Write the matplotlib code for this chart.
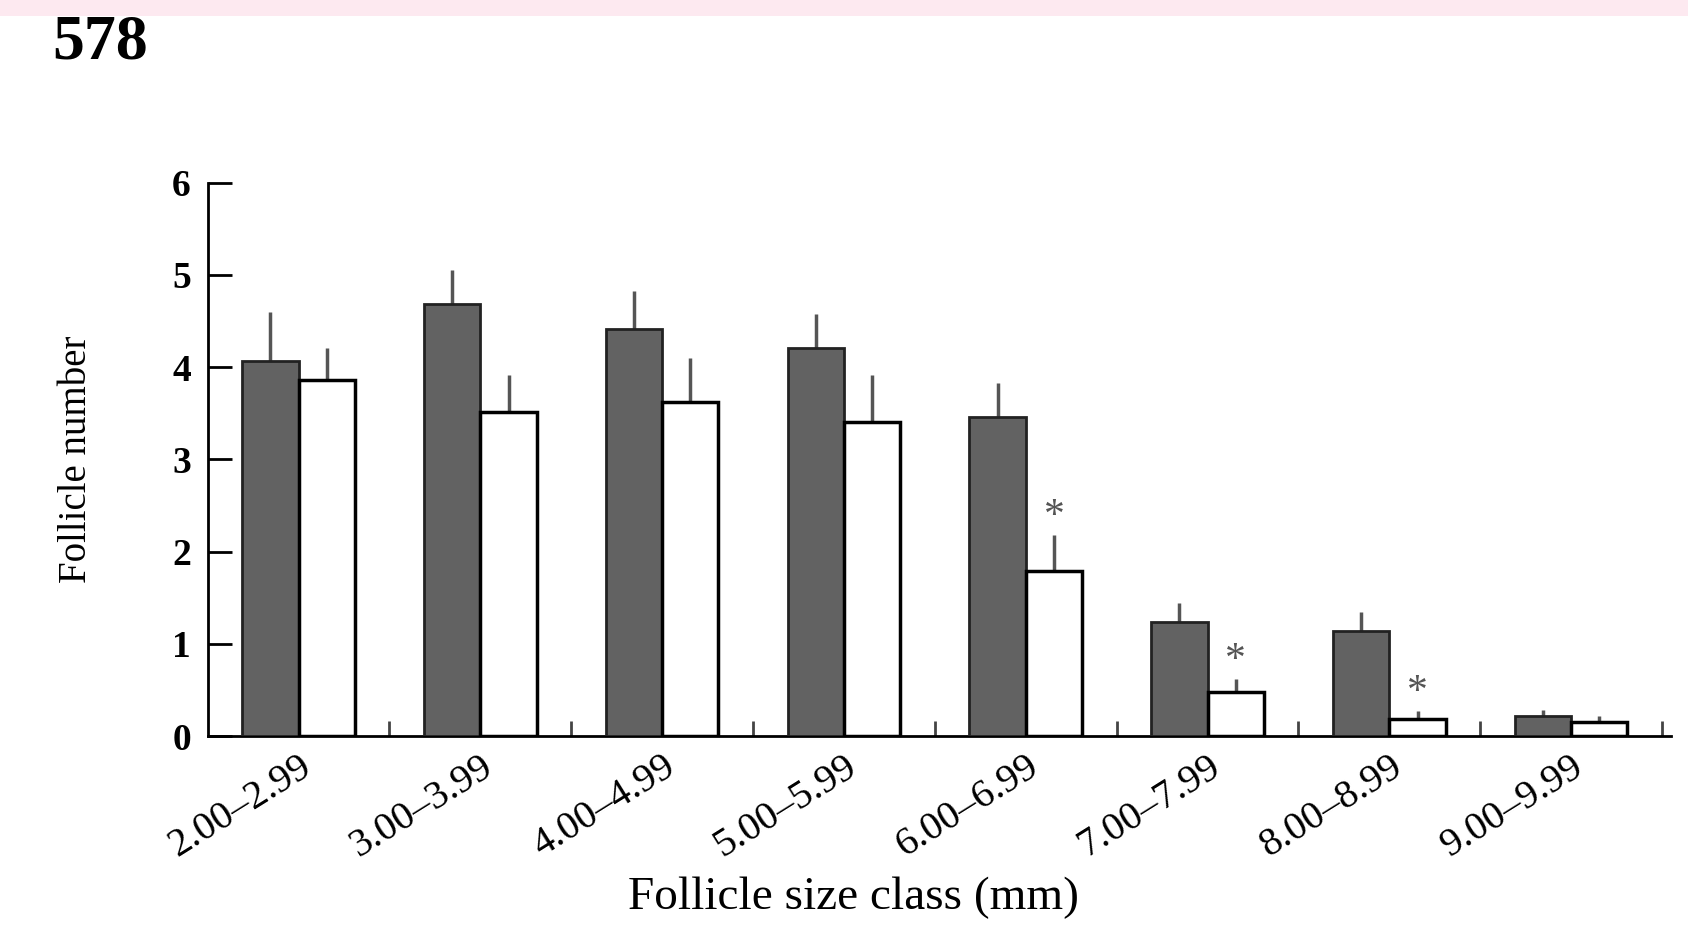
import numpy as np
import matplotlib
matplotlib.use("Agg")
import matplotlib.pyplot as plt
from matplotlib.patches import Rectangle

size_classes = ["2.00–2.99", "3.00–3.99", "4.00–4.99", "5.00–5.99",
                "6.00–6.99", "7.00–7.99", "8.00–8.99", "9.00–9.99"]
dark_mean = [4.07, 4.68, 4.41, 4.21, 3.46, 1.24, 1.14, 0.22]
dark_sem = [0.53, 0.37, 0.41, 0.37, 0.37, 0.20, 0.20, 0.06]
white_mean = [3.86, 3.51, 3.62, 3.41, 1.79, 0.48, 0.19, 0.15]
white_sem = [0.35, 0.40, 0.48, 0.50, 0.39, 0.14, 0.08, 0.07]
significant = [False, False, False, False, True, True, True, False]

plt.rcParams['font.family'] = ['Liberation Serif', 'DejaVu Serif']

fig = plt.figure(figsize=(16.88, 9.27), dpi=100)
fig.patches.append(Rectangle((0, 0.983), 1, 0.017, transform=fig.transFigure,
                             facecolor='#fde9f0', edgecolor='none'))
fig.text(0.031, 0.953, "578", fontsize=46, fontweight='bold', va='center', ha='left')

ax = fig.add_axes([0.123, 0.206, 0.867, 0.597])

x = np.arange(len(size_classes)) + 0.5
w = 0.31
ax.bar(x - w / 2, dark_mean, w, color='#626262', edgecolor='#222222', linewidth=2, zorder=3)
ax.bar(x + w / 2, white_mean, w, color='white', edgecolor='black', linewidth=2.5, zorder=3)
ax.errorbar(x - w / 2, dark_mean, yerr=[np.zeros(8), dark_sem], fmt='none',
            ecolor='#555555', elinewidth=2.5, capsize=0, zorder=2)
ax.errorbar(x + w / 2, white_mean, yerr=[np.zeros(8), white_sem], fmt='none',
            ecolor='#555555', elinewidth=2.5, capsize=0, zorder=2)

for xi, m, s, sig in zip(x, white_mean, white_sem, significant):
    if sig:
        ax.text(xi + w / 2, m + s + 0.2, "*", ha='center', va='center',
                fontsize=30, color='#555555')

ax.set_xlim(0, 8.05)
ax.set_ylim(0, 6)
ax.set_yticks(range(7))
ax.tick_params(axis='y', direction='in', length=17, width=2, labelsize=27, pad=12)
for lab in ax.get_yticklabels():
    lab.set_fontweight('bold')

ax.set_xticks(x)
ax.set_xticklabels(size_classes, rotation=32, ha='right', va='top', rotation_mode='anchor')
ax.tick_params(axis='x', length=0, labelsize=29, pad=9)
ax.set_xticks(np.arange(1, 9), minor=True)
ax.tick_params(axis='x', which='minor', direction='in', length=11, width=2, color='#444444')

for side in ['top', 'right']:
    ax.spines[side].set_visible(False)
ax.spines['left'].set_linewidth(2)
ax.spines['bottom'].set_linewidth(2)

ax.set_ylabel("Follicle number", fontsize=28)
ax.yaxis.set_label_coords(-0.077, 0.5)
ax.set_xlabel("Follicle size class (mm)", fontsize=34)
ax.xaxis.label.set_va('center')
ax.xaxis.set_label_coords(0.441, -0.292)

fig.savefig("out.png", dpi=100)
